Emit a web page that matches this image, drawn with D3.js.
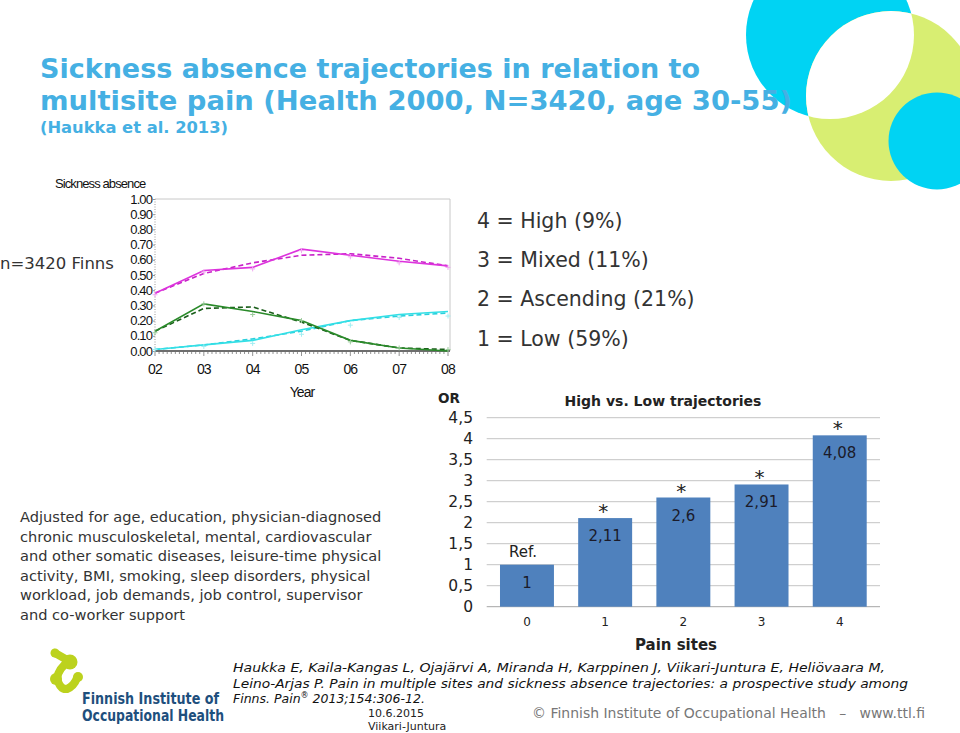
<!DOCTYPE html>
<html>
<head>
<meta charset="utf-8">
<script src="https://cdnjs.cloudflare.com/ajax/libs/d3/7.8.5/d3.min.js"></script>
<style>
  body { margin: 0; background: #fff; }
  svg { display: block; }
</style>
</head>
<body>
<div id="slide"></div>
<script>
// ---- data ----
const years = ["02", "03", "04", "05", "06", "07", "08"];
const yTicks = [0, 0.1, 0.2, 0.3, 0.4, 0.5, 0.6, 0.7, 0.8, 0.9, 1.0];

// trajectory 4 (High), 3 (Mixed), 2 (Ascending): estimated (solid), model (dashed), observed (+)
const highEst   = [0.38, 0.53, 0.55, 0.67, 0.63, 0.59, 0.56];
const highModel = [0.38, 0.51, 0.58, 0.63, 0.64, 0.61, 0.56];
const highObs   = [0.37, 0.52, 0.54, 0.66, 0.62, 0.58, 0.55];
const mixedEst   = [0.13, 0.31, 0.26, 0.20, 0.07, 0.02, 0.00];
const mixedModel = [0.13, 0.28, 0.29, 0.19, 0.07, 0.02, 0.01];
const mixedObs   = [0.12, 0.31, 0.24, 0.20, 0.06, 0.02, 0.01];
const ascEst   = [0.01, 0.04, 0.07, 0.14, 0.20, 0.24, 0.26];
const ascModel = [0.01, 0.04, 0.08, 0.13, 0.20, 0.23, 0.25];
const ascObs   = [0.01, 0.03, 0.05, 0.11, 0.17, 0.22, 0.23];

const legendLines = ["4 = High (9%)", "3 = Mixed (11%)", "2 = Ascending (21%)", "1 = Low (59%)"];

const painSites = ["0", "1", "2", "3", "4"];
const oddsRatios = [1, 2.11, 2.6, 2.91, 4.08];
const marks = ["Ref.", "*", "*", "*", "*"];
const orTicks = [0, 0.5, 1, 1.5, 2, 2.5, 3, 3.5, 4, 4.5];

const adjustText = [
  "Adjusted for age, education, physician-diagnosed",
  "chronic musculoskeletal, mental, cardiovascular",
  "and other somatic diseases, leisure-time physical",
  "activity, BMI, smoking, sleep disorders, physical",
  "workload, job demands, job control, supervisor",
  "and co-worker support"
];

const W = 960, H = 733;
const svg = d3.select("#slide").append("svg")
  .attr("width", W).attr("height", H)
  .style("font-family", "'DejaVu Sans', Verdana, sans-serif");

// ---- decorative circles top right ----
const cyanBig = { cx: 830, cy: 35, r: 84 };
const greenBig = { cx: 891, cy: 96, r: 85 };
svg.append("circle").attr("cx", cyanBig.cx).attr("cy", cyanBig.cy).attr("r", cyanBig.r).attr("fill", "#00d3f3");
svg.append("circle").attr("cx", greenBig.cx).attr("cy", greenBig.cy).attr("r", greenBig.r).attr("fill", "#d8ee72");
svg.append("clipPath").attr("id", "cyanClip")
  .append("circle").attr("cx", cyanBig.cx).attr("cy", cyanBig.cy).attr("r", cyanBig.r);
svg.append("circle").attr("cx", greenBig.cx).attr("cy", greenBig.cy).attr("r", greenBig.r)
  .attr("fill", "#fff").attr("clip-path", "url(#cyanClip)");
svg.append("circle").attr("cx", 937).attr("cy", 141).attr("r", 48.5).attr("fill", "#00d3f3");

// ---- title ----
const blue = "#45b0e3";
svg.append("text").attr("x", 40).attr("y", 78).attr("fill", blue)
  .attr("font-weight", "bold").attr("font-size", 26.5)
  .attr("textLength", 660).attr("lengthAdjust", "spacingAndGlyphs")
  .text("Sickness absence trajectories in relation to");
svg.append("text").attr("x", 40).attr("y", 110).attr("fill", blue)
  .attr("font-weight", "bold").attr("font-size", 26.5)
  .attr("textLength", 752).attr("lengthAdjust", "spacingAndGlyphs")
  .text("multisite pain (Health 2000, N=3420, age 30-55)");
svg.append("text").attr("x", 40).attr("y", 133).attr("fill", blue)
  .attr("font-weight", "bold").attr("font-size", 16.5)
  .attr("textLength", 188).attr("lengthAdjust", "spacingAndGlyphs")
  .text("(Haukka et al. 2013)");

// ---- trajectory line chart ----
const lx = d3.scalePoint().domain(years).range([155, 448]);
const ly = d3.scaleLinear().domain([0, 1]).range([351, 199]);
const sasFont = "'Liberation Sans', Arial, sans-serif";

const lc = svg.append("g").style("font-family", sasFont);

// frame
lc.append("path")
  .attr("d", `M${lx("02")},${ly(1)}H450V${ly(0)}`)
  .attr("fill", "none").attr("stroke", "#c8c8c8").attr("stroke-width", 1);
lc.append("line")
  .attr("x1", lx("02")).attr("x2", lx("02")).attr("y1", ly(1)).attr("y2", ly(0))
  .attr("stroke", "#999").attr("stroke-dasharray", "1,1.5");

// y axis labels
const yAx = lc.append("g").attr("transform", `translate(${lx("02")},0)`)
  .call(d3.axisLeft(ly).tickValues(yTicks).tickFormat(d3.format(".2f")).tickSize(2).tickPadding(1));
yAx.select(".domain").remove();
yAx.selectAll("line").attr("stroke", "#999");
yAx.selectAll("text").attr("font-family", sasFont).attr("font-size", 13)
  .attr("letter-spacing", "-0.9px").attr("fill", "#111");

// x axis: majors + monthly minors
const minorX = d3.scaleLinear().domain([0, 72]).range([155, 448]);
lc.append("g").selectAll("line").data(d3.range(0, 73)).join("line")
  .attr("x1", d => minorX(d)).attr("x2", d => minorX(d))
  .attr("y1", ly(0)).attr("y2", d => d % 12 === 0 ? ly(0) + 5 : ly(0) + 3)
  .attr("stroke", "#777").attr("stroke-width", 0.8);
lc.append("line").attr("x1", 155).attr("x2", 450).attr("y1", ly(0)).attr("y2", ly(0))
  .attr("stroke", "#6e6e6e").attr("stroke-width", 2);
lc.append("g").selectAll("text").data(years).join("text")
  .attr("x", d => lx(d)).attr("y", 374).attr("text-anchor", "middle")
  .attr("font-size", 14).attr("letter-spacing", "-0.9px").attr("fill", "#111")
  .text(d => d);
lc.append("text").attr("x", 302).attr("y", 397).attr("text-anchor", "middle")
  .attr("font-size", 14).attr("letter-spacing", "-0.9px").attr("fill", "#111").text("Year");
lc.append("text").attr("x", 55).attr("y", 188)
  .attr("font-size", 13).attr("letter-spacing", "-0.9px").attr("fill", "#111").text("Sickness absence");

const line = d3.line().x((d, i) => lx(years[i])).y(d => ly(d));
const series = [
  { est: ascEst, model: ascModel, obs: ascObs, c: "#33dfe6", cd: "#2ad0dc", co: "#a0eef2" },
  { est: mixedEst, model: mixedModel, obs: mixedObs, c: "#2a8a2a", cd: "#1b5e1b", co: "#9ccc9c" },
  { est: highEst, model: highModel, obs: highObs, c: "#dd33dd", cd: "#c822c8", co: "#f0a8f0" }
];
series.forEach(s => {
  lc.append("path").attr("d", line(s.model)).attr("fill", "none")
    .attr("stroke", s.cd).attr("stroke-width", 1.6).attr("stroke-dasharray", "5,3");
  lc.append("path").attr("d", line(s.est)).attr("fill", "none")
    .attr("stroke", s.c).attr("stroke-width", 1.6);
  lc.append("g").selectAll("path").data(s.obs).join("path")
    .attr("d", (d, i) => `M${lx(years[i]) - 2.5},${ly(d)}h5M${lx(years[i])},${ly(d) - 2.5}v5`)
    .attr("stroke", s.co).attr("stroke-width", 1);
});

svg.append("text").attr("x", 0).attr("y", 269).attr("font-size", 16.5).attr("fill", "#333")
  .text("n=3420 Finns");

// legend text
svg.append("g").selectAll("text").data(legendLines).join("text")
  .attr("x", 477).attr("y", (d, i) => 228 + i * 39.2)
  .attr("font-size", 20.5).attr("fill", "#333")
  .text(d => d);

// adjustment paragraph
svg.append("g").selectAll("text").data(adjustText).join("text")
  .attr("x", 20).attr("y", (d, i) => 522 + i * 19.6)
  .attr("font-size", 14.6).attr("fill", "#333")
  .text(d => d);

// ---- odds ratio bar chart ----
const bx = d3.scaleBand().domain(painSites).range([486.7, 880]).paddingInner(0.31).paddingOuter(0.17);
const by = d3.scaleLinear().domain([0, 4.5]).range([606.7, 417.7]);
const comma = v => String(v).replace(".", ",");

const bc = svg.append("g");
bc.append("g").selectAll("line").data(orTicks).join("line")
  .attr("x1", 486.7).attr("x2", 880).attr("y1", d => by(d)).attr("y2", d => by(d))
  .attr("stroke", d => d === 0 ? "#a6a6a6" : "#c4c4c4").attr("stroke-width", 1);
bc.append("g").selectAll("text").data(orTicks).join("text")
  .attr("x", 473).attr("y", d => by(d) + 5.5).attr("text-anchor", "end")
  .attr("font-size", 15.5).attr("fill", "#222").text(d => comma(d));
bc.append("text").attr("x", 449).attr("y", 403).attr("text-anchor", "middle")
  .attr("font-weight", "bold").attr("font-size", 13.5).attr("fill", "#222").text("OR");
bc.append("text").attr("x", 663).attr("y", 406).attr("text-anchor", "middle")
  .attr("font-weight", "bold").attr("font-size", 14).attr("fill", "#222").text("High vs. Low trajectories");

bc.append("g").selectAll("rect").data(oddsRatios).join("rect")
  .attr("x", (d, i) => bx(painSites[i])).attr("width", bx.bandwidth())
  .attr("y", d => by(d)).attr("height", d => by(0) - by(d))
  .attr("fill", "#4f81bd");
bc.append("g").selectAll("text").data(oddsRatios).join("text")
  .attr("x", (d, i) => bx(painSites[i]) + bx.bandwidth() / 2).attr("y", d => by(d) + 23)
  .attr("text-anchor", "middle").attr("font-size", 15).attr("fill", "#1b1b2a")
  .text(d => comma(d));
bc.append("g").selectAll("text").data(marks).join("text")
  .attr("x", (d, i) => bx(painSites[i]) + bx.bandwidth() / 2 - (d === "Ref." ? 4 : 2))
  .attr("y", (d, i) => by(oddsRatios[i]) - (d === "Ref." ? 8 : 0))
  .attr("text-anchor", "middle").attr("font-size", d => d === "Ref." ? 15 : 20)
  .attr("fill", "#222").text(d => d);
bc.append("g").selectAll("text").data(painSites).join("text")
  .attr("x", d => bx(d) + bx.bandwidth() / 2).attr("y", 626)
  .attr("text-anchor", "middle").attr("font-size", 12).attr("fill", "#222").text(d => d);
bc.append("text").attr("x", 676).attr("y", 650).attr("text-anchor", "middle")
  .attr("font-weight", "bold").attr("font-size", 15).attr("fill", "#222").text("Pain sites");

// ---- logo ----
const lime = "#bcd21e";
const logo = svg.append("g");
logo.append("path")
  .attr("d", "M55,653 L69,661 Q59,668 57,678 Q60,690 67,689 Q74,686 77,678")
  .attr("fill", "none").attr("stroke", lime).attr("stroke-width", 8)
  .attr("stroke-linecap", "round").attr("stroke-linejoin", "round");
logo.append("circle").attr("cx", 55).attr("cy", 653).attr("r", 4.5).attr("fill", lime);
logo.append("circle").attr("cx", 70).attr("cy", 662).attr("r", 7.5).attr("fill", lime);
logo.append("circle").attr("cx", 56).attr("cy", 679).attr("r", 6).attr("fill", lime);
logo.append("circle").attr("cx", 78).attr("cy", 677).attr("r", 5).attr("fill", lime);
logo.append("text").attr("x", 82).attr("y", 704).attr("font-family", "'DejaVu Sans Condensed', 'DejaVu Sans', sans-serif")
  .attr("font-weight", "bold").attr("font-size", 15).attr("fill", "#1e4f7d")
  .attr("textLength", 137).attr("lengthAdjust", "spacingAndGlyphs").text("Finnish Institute of");
logo.append("text").attr("x", 82).attr("y", 721).attr("font-family", "'DejaVu Sans Condensed', 'DejaVu Sans', sans-serif")
  .attr("font-weight", "bold").attr("font-size", 15).attr("fill", "#1e4f7d")
  .attr("textLength", 142).attr("lengthAdjust", "spacingAndGlyphs").text("Occupational Health");

// ---- footer ----
const cite = svg.append("g").attr("font-style", "italic").attr("font-size", 12.5).attr("fill", "#111");
cite.append("text").attr("x", 233).attr("y", 672.3)
  .attr("textLength", 652).attr("lengthAdjust", "spacingAndGlyphs")
  .text("Haukka E, Kaila-Kangas L, Ojajärvi A, Miranda H, Karppinen J, Viikari-Juntura E, Heliövaara M,");
cite.append("text").attr("x", 233).attr("y", 687.8)
  .attr("textLength", 675).attr("lengthAdjust", "spacingAndGlyphs")
  .text("Leino-Arjas P. Pain in multiple sites and sickness absence trajectories: a prospective study among");
const l3 = cite.append("text").attr("x", 233).attr("y", 703.3);
l3.append("tspan").text("Finns. Pain");
l3.append("tspan").attr("font-size", 8).attr("dy", -5).text("®");
l3.append("tspan").attr("dy", 5).text(" 2013;154:306-12.");

svg.append("text").attr("x", 368).attr("y", 717.2).attr("font-size", 11).attr("fill", "#222").text("10.6.2015");
svg.append("text").attr("x", 368).attr("y", 730.2).attr("font-size", 11).attr("fill", "#222").text("Viikari-Juntura");
svg.append("text").attr("x", 532).attr("y", 718).attr("font-size", 13.5).attr("fill", "#777")
  .attr("textLength", 393).attr("lengthAdjust", "spacingAndGlyphs")
  .text("© Finnish Institute of Occupational Health\u00a0\u00a0\u00a0–\u00a0\u00a0\u00a0www.ttl.fi");
</script>
</body>
</html>
